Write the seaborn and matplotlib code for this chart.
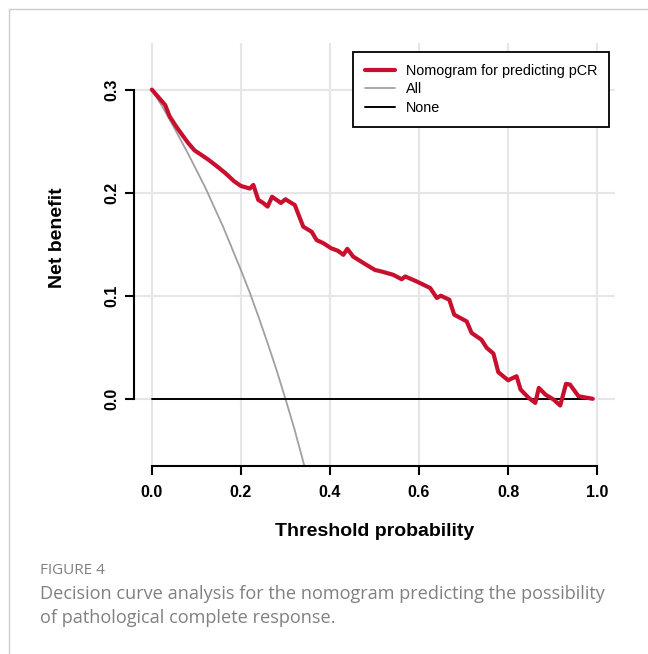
import numpy as np
import pandas as pd
import matplotlib
matplotlib.use("Agg")
import matplotlib.pyplot as plt
from matplotlib.lines import Line2D
import seaborn as sns

# Nomogram net benefit curve
nomo_threshold = [0.00, 0.01, 0.02, 0.03, 0.04, 0.055, 0.07, 0.082, 0.096, 0.11,
                  0.127, 0.145, 0.165, 0.185, 0.20, 0.22, 0.228, 0.239, 0.25, 0.26,
                  0.27, 0.29, 0.30, 0.321, 0.34, 0.359, 0.37, 0.385, 0.403, 0.418,
                  0.43, 0.439, 0.452, 0.479, 0.501, 0.516, 0.542, 0.561, 0.569, 0.595,
                  0.625, 0.64, 0.649, 0.668, 0.679, 0.707, 0.718, 0.74, 0.752, 0.767,
                  0.778, 0.80, 0.819, 0.828, 0.846, 0.861, 0.869, 0.884, 0.902, 0.917,
                  0.930, 0.939, 0.958, 0.99]
nomo_benefit = [0.300, 0.295, 0.290, 0.285, 0.274, 0.264, 0.255, 0.248, 0.241, 0.237,
                0.232, 0.226, 0.219, 0.211, 0.2065, 0.204, 0.2075, 0.193, 0.190, 0.1865,
                0.196, 0.190, 0.1936, 0.188, 0.167, 0.162, 0.154, 0.151, 0.146, 0.1436,
                0.1397, 0.1455, 0.138, 0.1307, 0.125, 0.1235, 0.1203, 0.116, 0.1187, 0.1138,
                0.1075, 0.0978, 0.100, 0.0961, 0.0816, 0.0751, 0.0639, 0.0574, 0.0494, 0.0439,
                0.0258, 0.018, 0.0219, 0.009, 0.001, -0.004, 0.0106, 0.004, -0.0007, -0.0065,
                0.0145, 0.0138, 0.0025, 0.0]

# Treat-all curve
all_threshold = [0.00, 0.02, 0.04, 0.06, 0.08, 0.10, 0.12, 0.14, 0.16, 0.18,
                 0.20, 0.22, 0.24, 0.26, 0.28, 0.30, 0.32, 0.34, 0.35]
all_benefit = [0.300, 0.286, 0.271, 0.255, 0.239, 0.222, 0.205, 0.186, 0.167, 0.146,
               0.125, 0.103, 0.079, 0.054, 0.028, 0.000, -0.029, -0.061, -0.077]

# Treat-none curve
none_threshold = [0.00, 0.99]
none_benefit = [0.0, 0.0]

x_ticks = [0.0, 0.2, 0.4, 0.6, 0.8, 1.0]
y_ticks = [0.0, 0.1, 0.2, 0.3]

legend_labels = ["Nomogram for predicting pCR", "All", "None"]

RED = "#C8102E"
GRAY = "#A0A0A0"

sns.set_theme(style="white")
plt.rcParams["font.family"] = ["Liberation Sans", "DejaVu Sans"]
plt.rcParams["text.color"] = "black"
plt.rcParams["xtick.color"] = "black"
plt.rcParams["ytick.color"] = "black"

fig = plt.figure(figsize=(6.48, 6.54), dpi=100)
ax = fig.add_axes([134 / 648, 1 - 466 / 654, (615 - 134) / 648, (466 - 43) / 654])

ax.grid(True, color="#E6E6E6", linewidth=1.5)
ax.set_axisbelow(True)

nomo_df = pd.DataFrame({"threshold": nomo_threshold, "net_benefit": nomo_benefit})
all_df = pd.DataFrame({"threshold": all_threshold, "net_benefit": all_benefit})
none_df = pd.DataFrame({"threshold": none_threshold, "net_benefit": none_benefit})

sns.lineplot(data=all_df, x="threshold", y="net_benefit", color=GRAY, linewidth=1.3,
             estimator=None, ax=ax, legend=False)
sns.lineplot(data=none_df, x="threshold", y="net_benefit", color="black", linewidth=1.4,
             estimator=None, ax=ax, legend=False)
sns.lineplot(data=nomo_df, x="threshold", y="net_benefit", color=RED, linewidth=3,
             estimator=None, ax=ax, legend=False)

ax.set_xlim(-0.04, 1.04)
ax.set_ylim(-0.0652, 0.3452)
ax.set_xticks(x_ticks)
ax.set_yticks(y_ticks)
ax.set_xticklabels([f"{v:.1f}" for v in x_ticks], fontsize=11.5, fontweight="bold")
ax.set_yticklabels([f"{v:.1f}" for v in y_ticks], fontsize=11.5, fontweight="bold",
                   rotation=90, va="center")
ax.tick_params(axis="x", bottom=True, direction="out", length=6.5, width=1.5, pad=7,
               colors="black")
ax.tick_params(axis="y", left=True, direction="out", length=6.5, width=1.5, pad=4,
               colors="black")
ax.set_xlabel("")
ax.set_ylabel("")

for side in ["top", "right"]:
    ax.spines[side].set_visible(False)
for side in ["left", "bottom"]:
    ax.spines[side].set_linewidth(1.5)
    ax.spines[side].set_color("black")
ax.spines["left"].set_bounds(0, 0.3)
ax.spines["bottom"].set_bounds(0, 1)

handles = [Line2D([], [], color=RED, linewidth=3),
           Line2D([], [], color=GRAY, linewidth=1.3),
           Line2D([], [], color="black", linewidth=1.4)]
leg = ax.legend(handles, legend_labels, loc="upper right",
                bbox_to_anchor=(609 / 648, 1 - 52 / 654), bbox_transform=fig.transFigure,
                borderaxespad=0, fancybox=False, framealpha=1, edgecolor="black",
                fontsize=10.4, handlelength=2.1, handletextpad=0.75, labelspacing=0.34,
                borderpad=0.8)
leg.get_frame().set_linewidth(1.3)
for t in leg.get_texts():
    t.set_color("black")

fig.text(375 / 648, 1 - 531 / 654, "Threshold probability", ha="center", va="center",
         fontsize=14, fontweight="bold")
fig.text(57 / 648, 1 - 238 / 654, "Net benefit", ha="center", va="center",
         fontsize=14, fontweight="bold", rotation=90)

# caption below the chart
fig.text(40 / 648, 1 - 571 / 654, "FIGURE 4", ha="left", va="center",
         fontsize=11, color="#808080", family=["Open Sans", "DejaVu Sans"])
fig.text(40 / 648, 1 - 594 / 654,
         "Decision curve analysis for the nomogram predicting the possibility",
         ha="left", va="center", fontsize=13.1, color="#808080",
         family=["Open Sans", "DejaVu Sans"])
fig.text(40 / 648, 1 - 618 / 654, "of pathological complete response.",
         ha="left", va="center", fontsize=13.1, color="#808080",
         family=["Open Sans", "DejaVu Sans"])

# page border lines on the top and left
fig.add_artist(Line2D([9 / 648, 9 / 648], [0, 1 - 9 / 654], color="#CCCCCC",
                      linewidth=1, transform=fig.transFigure))
fig.add_artist(Line2D([9 / 648, 1], [1 - 9 / 654, 1 - 9 / 654], color="#CCCCCC",
                      linewidth=1, transform=fig.transFigure))

fig.savefig("out.png", dpi=100)
